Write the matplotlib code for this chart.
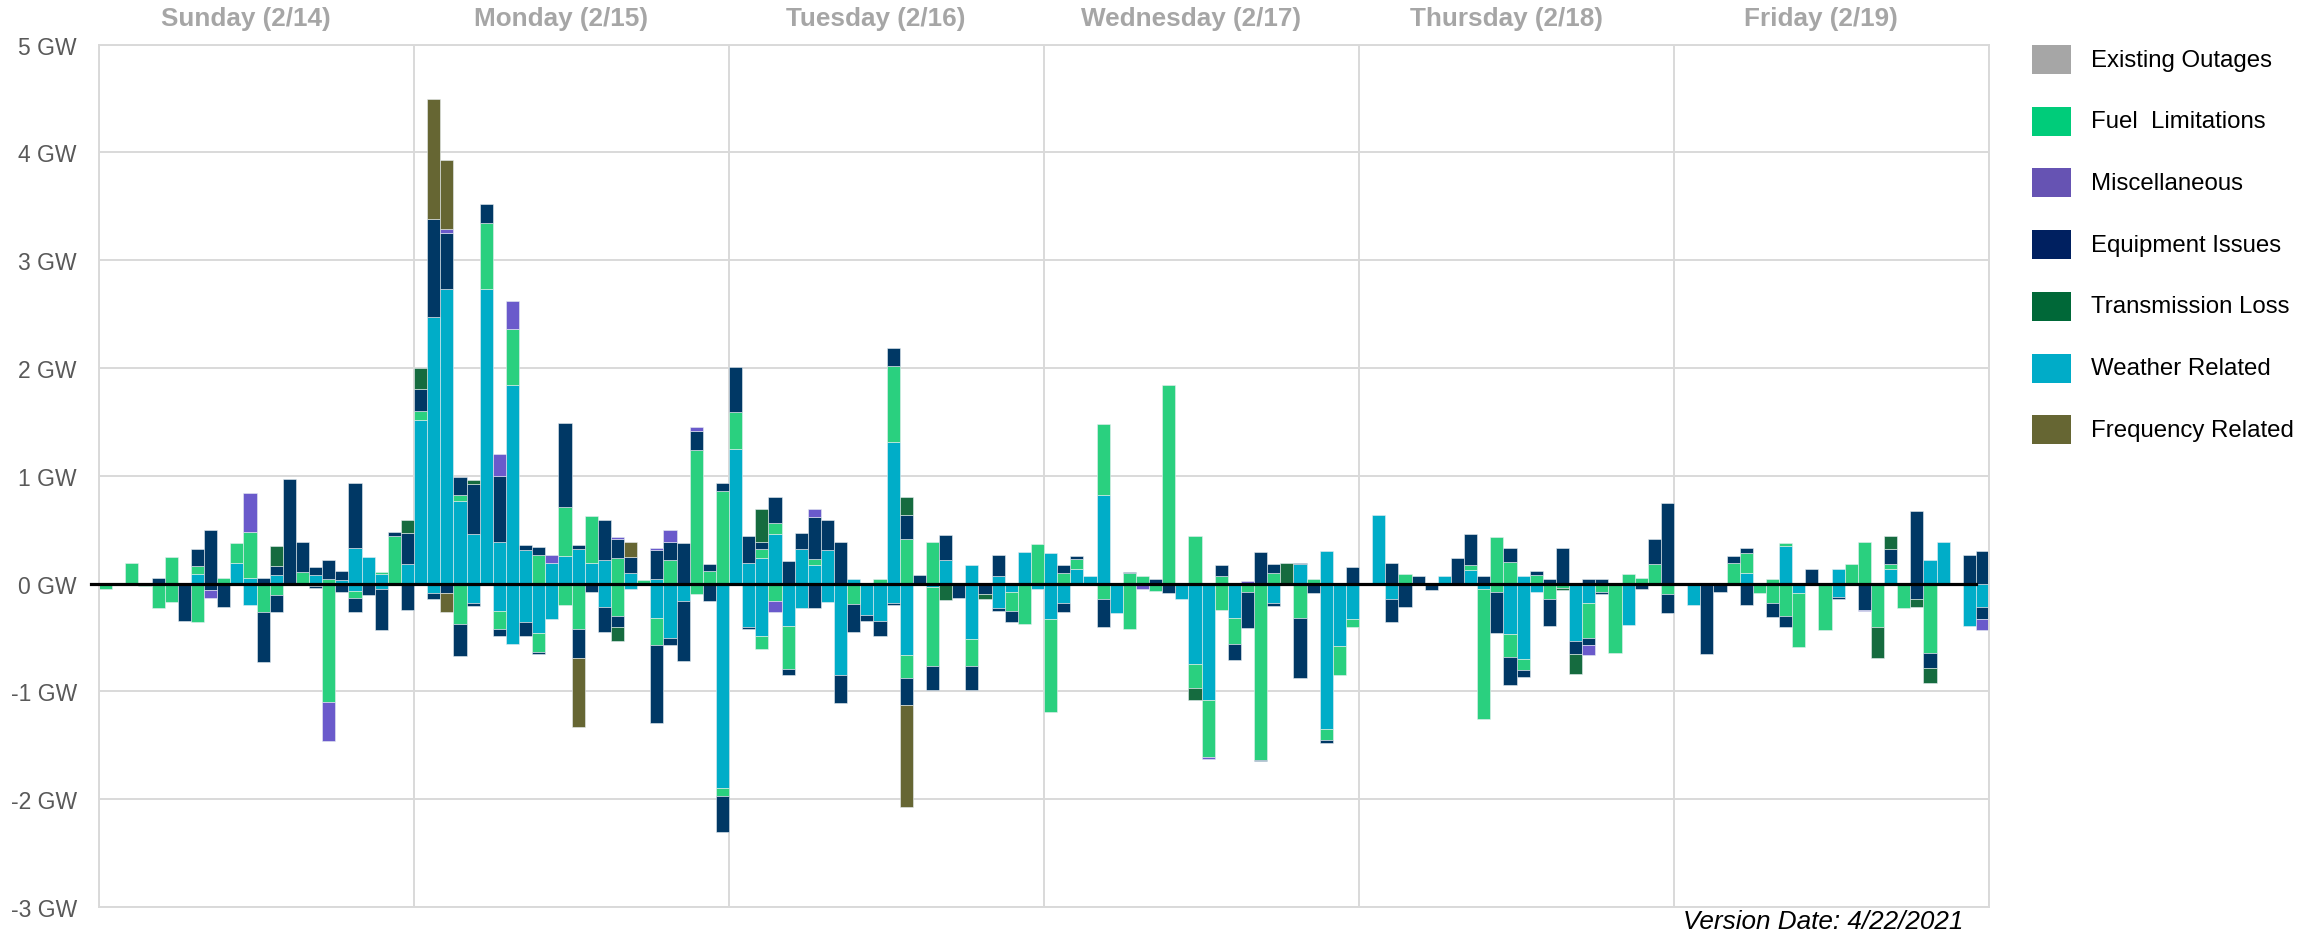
import numpy as np
import matplotlib
matplotlib.use("Agg")
import matplotlib.pyplot as plt
from matplotlib.patches import Rectangle
import matplotlib.transforms as mtransforms

plt.rcParams['font.family'] = ['Liberation Sans', 'DejaVu Sans']

# ---- data: hourly change in outages (GW), Sun 2/14 .. Fri 2/19, one row per day ----
days = ['Sunday (2/14)', 'Monday (2/15)', 'Tuesday (2/16)',
        'Wednesday (2/17)', 'Thursday (2/18)', 'Friday (2/19)']

weather_up = [
    0, 0, 0, 0, 0, 0, 0, .09, 0, 0, .19, .05, 0, .08, 0, 0, .08, 0, .03, .33, .25, .09, 0, .18,
    1.52, 2.47, 2.73, .77, .46, 2.73, .39, 1.84, .31, 0, .19, .26, .32, .19, .22, 0, .1, 0, .04, 0, 0, 0, 0, 0,
    1.25, .19, .24, .46, 0, .32, .17, .31, 0, .04, 0, 0, 1.31, 0, 0, 0, .22, 0, .17, 0, .07, 0, .29, 0,
    .28, 0, .14, .07, .82, 0, 0, 0, 0, 0, 0, 0, 0, 0, 0, 0, 0, 0, 0, .18, 0, .3, 0, 0,
    0, .64, 0, 0, 0, 0, .07, 0, .13, 0, 0, 0, .07, 0, 0, 0, 0, 0, 0, 0, 0, 0, 0, 0,
    0, 0, 0, 0, 0, .1, 0, 0, .35, 0, 0, 0, .14, 0, 0, 0, .14, 0, 0, .22, .39, 0, 0, 0]
weather_dn = [
    0, 0, 0, 0, 0, 0, 0, 0, 0, 0, 0, -.2, 0, 0, 0, 0, -.02, 0, 0, -.07, 0, -.05, 0, 0,
    0, -.09, 0, 0, -.18, 0, -.25, -.56, -.36, -.46, -.33, 0, 0, 0, -.22, 0, -.05, 0, -.32, -.5, -.16, 0, 0, -1.9,
    0, -.4, -.49, 0, -.39, -.23, 0, -.17, -.85, 0, -.29, -.35, -.18, -.66, 0, -.03, 0, 0, -.51, 0, -.23, -.08, 0, -.05,
    -.33, -.18, 0, 0, 0, -.27, 0, 0, 0, 0, -.14, -.75, -1.08, 0, -.32, 0, 0, -.18, 0, 0, 0, -1.35, -.58, -.33,
    0, 0, -.14, 0, 0, 0, 0, 0, 0, -.05, 0, -.47, -.7, -.08, 0, 0, -.53, -.18, 0, 0, -.38, 0, 0, 0,
    0, -.2, 0, 0, 0, 0, 0, 0, 0, -.09, 0, 0, -.12, 0, 0, 0, 0, 0, 0, 0, 0, 0, -.39, -.22]

fuel_up = [
    0, 0, .19, 0, 0, .25, 0, .07, 0, .05, .19, .43, 0, 0, 0, .11, 0, .04, 0, 0, 0, .02, .44, 0,
    .08, 0, 0, .05, 0, .62, 0, .52, 0, .27, 0, .45, 0, .44, 0, .24, 0, .03, 0, .22, 0, 1.24, .12, .86,
    .34, 0, .08, .1, 0, 0, .06, 0, 0, 0, 0, .04, .71, .41, 0, .39, 0, 0, 0, 0, 0, 0, 0, .37,
    0, .1, .09, 0, .66, 0, .1, .07, 0, 1.84, 0, .44, 0, .07, 0, 0, 0, .1, 0, 0, .04, 0, 0, 0,
    0, 0, 0, .09, 0, 0, 0, 0, .04, 0, .43, .2, 0, .08, 0, 0, 0, 0, 0, 0, .09, .05, .18, 0,
    0, 0, 0, 0, .19, .18, 0, .04, .03, 0, 0, 0, 0, .18, .39, 0, .04, 0, 0, 0, 0, 0, 0, 0]
fuel_dn = [
    -.05, 0, 0, -.02, -.23, -.17, 0, -.36, 0, 0, 0, 0, -.26, -.11, 0, 0, 0, -1.1, 0, -.06, 0, 0, 0, 0,
    0, 0, 0, -.37, 0, 0, -.17, 0, 0, -.17, 0, -.2, -.42, 0, 0, -.3, 0, 0, -.25, 0, 0, -.1, 0, -.07,
    0, 0, -.12, -.16, -.4, 0, 0, 0, 0, -.19, 0, 0, 0, -.22, 0, -.73, 0, 0, -.25, 0, 0, -.17, -.37, 0,
    -.86, 0, 0, 0, -.14, 0, -.42, 0, -.07, 0, 0, -.22, -.53, -.24, -.24, -.08, -1.64, 0, 0, -.32, 0, -.1, -.27, -.07,
    0, 0, 0, 0, 0, 0, 0, 0, 0, -1.21, -.08, -.21, -.1, 0, -.14, -.04, 0, -.32, -.08, -.64, 0, 0, 0, -.1,
    0, 0, 0, 0, 0, 0, -.09, -.18, -.3, -.5, 0, -.43, 0, 0, 0, -.4, 0, -.23, 0, -.64, 0, 0, 0, 0]

equip_up = [
    0, 0, 0, 0, .05, 0, 0, .16, .5, 0, 0, 0, .05, .08, .97, .28, .07, .18, .09, .6, 0, 0, .04, .29,
    .21, .91, .52, .17, .46, .17, .61, 0, .05, .07, 0, .78, .04, 0, .37, .17, .15, 0, .27, .17, .38, .18, .06, .07,
    .42, .25, .07, .24, .21, .15, .39, .28, .39, 0, 0, 0, .17, .23, .08, 0, .23, 0, 0, 0, .2, 0, 0, 0,
    0, .07, .03, 0, 0, 0, .01, 0, .04, 0, 0, 0, 0, .1, 0, 0, .29, .08, 0, .01, 0, 0, 0, .15,
    0, 0, .19, 0, .07, 0, 0, .24, .29, .07, 0, .13, 0, .04, .04, .33, 0, .04, .04, 0, 0, 0, .23, .75,
    0, 0, 0, 0, .07, .05, 0, 0, 0, 0, .14, 0, 0, 0, 0, 0, .14, 0, .67, 0, 0, 0, .27, .3]
equip_dn = [
    0, 0, 0, 0, 0, 0, -.35, 0, -.06, -.22, 0, 0, -.47, -.15, 0, 0, -.02, 0, -.08, -.13, -.11, -.38, 0, -.24,
    0, -.05, -.09, -.3, -.03, 0, -.07, 0, -.13, -.02, 0, 0, -.27, -.08, -.23, -.1, 0, 0, -.72, -.07, -.56, 0, -.16, -.33,
    0, -.02, 0, 0, -.06, 0, -.23, 0, -.26, -.26, -.06, -.14, -.02, -.25, 0, -.23, 0, -.13, -.23, -.1, -.02, -.11, 0, 0,
    0, -.08, 0, 0, -.26, 0, 0, 0, 0, -.09, 0, 0, 0, 0, -.15, -.33, -.01, -.03, 0, -.56, -.09, -.03, 0, 0,
    0, 0, -.22, -.22, 0, -.06, 0, 0, 0, 0, -.38, -.26, -.07, 0, -.25, 0, -.12, -.07, -.02, 0, 0, -.05, 0, -.17,
    0, 0, -.65, -.08, 0, -.2, 0, -.13, -.1, 0, 0, 0, -.02, 0, -.24, 0, 0, 0, -.14, -.14, 0, 0, 0, -.11]

trans_up = [
    0, 0, 0, 0, 0, 0, 0, 0, 0, 0, 0, 0, 0, .19, 0, 0, 0, 0, 0, 0, 0, 0, 0, .12,
    .19, 0, 0, 0, .04, 0, 0, 0, 0, 0, 0, 0, 0, 0, 0, 0, 0, 0, 0, 0, 0, 0, 0, 0,
    0, 0, .3, 0, 0, 0, 0, 0, 0, 0, 0, 0, 0, .16, 0, 0, 0, 0, 0, 0, 0, 0, 0, 0,
    0, 0, 0, 0, 0, 0, 0, 0, 0, 0, 0, 0, 0, 0, 0, 0, 0, 0, .19, 0, 0, 0, 0, 0,
    0, 0, 0, 0, 0, 0, 0, 0, 0, 0, 0, 0, 0, 0, 0, 0, 0, 0, 0, 0, 0, 0, 0, 0,
    0, 0, 0, 0, 0, 0, 0, 0, 0, 0, 0, 0, 0, 0, 0, 0, .12, 0, 0, 0, 0, 0, 0, 0]
trans_dn = [
    0, 0, 0, 0, 0, 0, 0, 0, 0, 0, 0, 0, 0, 0, 0, 0, 0, 0, 0, 0, 0, 0, 0, 0,
    0, 0, 0, 0, 0, 0, 0, 0, 0, 0, 0, 0, 0, 0, 0, -.13, 0, 0, 0, 0, 0, 0, 0, 0,
    0, 0, 0, 0, 0, 0, 0, 0, 0, 0, 0, 0, 0, 0, 0, 0, -.15, 0, 0, -.04, 0, 0, 0, 0,
    0, 0, 0, 0, 0, 0, 0, 0, 0, 0, 0, -.11, 0, 0, 0, 0, 0, 0, 0, 0, 0, 0, 0, 0,
    0, 0, 0, 0, 0, 0, 0, 0, 0, 0, 0, 0, 0, 0, 0, -.02, -.19, 0, 0, 0, 0, 0, 0, 0,
    0, 0, 0, 0, 0, 0, 0, 0, 0, 0, 0, 0, 0, 0, 0, -.29, 0, 0, -.08, -.14, 0, 0, 0, 0]

misc_up = [
    0, 0, 0, 0, 0, 0, 0, 0, 0, 0, 0, .36, 0, 0, 0, 0, 0, 0, 0, 0, 0, 0, 0, 0,
    0, 0, .04, 0, 0, 0, .2, .26, 0, 0, .08, 0, 0, 0, 0, .02, 0, 0, .02, .11, 0, .03, 0, 0,
    0, 0, 0, 0, 0, 0, .07, 0, 0, 0, 0, 0, 0, 0, 0, 0, 0, 0, 0, 0, 0, 0, 0, 0,
    0, 0, 0, 0, 0, 0, 0, 0, 0, 0, 0, 0, 0, 0, 0, .02, 0, 0, 0, 0, 0, 0, 0, 0,
    0, 0, 0, 0, 0, 0, 0, 0, 0, 0, 0, 0, 0, 0, 0, 0, 0, 0, 0, 0, 0, 0, 0, 0,
    0, 0, 0, 0, 0, 0, 0, 0, 0, 0, 0, 0, 0, 0, 0, 0, 0, 0, 0, 0, 0, 0, 0, 0]
misc_dn = [
    0, 0, 0, 0, 0, 0, 0, 0, -.07, 0, 0, 0, 0, 0, 0, 0, 0, -.36, 0, 0, 0, 0, 0, 0,
    0, 0, 0, 0, 0, 0, 0, 0, 0, 0, 0, 0, 0, 0, 0, 0, 0, 0, 0, 0, 0, 0, 0, 0,
    0, 0, 0, -.1, 0, 0, 0, 0, 0, 0, 0, 0, 0, 0, 0, 0, 0, 0, 0, 0, 0, 0, 0, 0,
    0, 0, 0, 0, 0, 0, 0, -.05, 0, 0, 0, 0, -.02, 0, 0, 0, 0, 0, 0, 0, 0, 0, 0, 0,
    0, 0, 0, 0, 0, 0, 0, 0, 0, 0, 0, 0, 0, 0, 0, 0, 0, -.09, 0, 0, 0, 0, 0, 0,
    0, 0, 0, 0, 0, 0, 0, 0, 0, 0, 0, 0, 0, 0, -.01, 0, 0, 0, 0, 0, 0, 0, 0, -.1]

freq_up = [
    0, 0, 0, 0, 0, 0, 0, 0, 0, 0, 0, 0, 0, 0, 0, 0, 0, 0, 0, 0, 0, 0, 0, 0,
    0, 1.12, .64, 0, 0, 0, 0, 0, 0, 0, 0, 0, 0, 0, 0, 0, .14, 0, 0, 0, 0, 0, 0, 0,
    0, 0, 0, 0, 0, 0, 0, 0, 0, 0, 0, 0, 0, 0, 0, 0, 0, 0, 0, 0, 0, 0, 0, 0,
    0, 0, 0, 0, 0, 0, 0, 0, 0, 0, 0, 0, 0, 0, 0, 0, 0, 0, 0, 0, 0, 0, 0, 0,
    0, 0, 0, 0, 0, 0, 0, 0, 0, 0, 0, 0, 0, 0, 0, 0, 0, 0, 0, 0, 0, 0, 0, 0,
    0, 0, 0, 0, 0, 0, 0, 0, 0, 0, 0, 0, 0, 0, 0, 0, 0, 0, 0, 0, 0, 0, 0, 0]
freq_dn = [
    0, 0, 0, 0, 0, 0, 0, 0, 0, 0, 0, 0, 0, 0, 0, 0, 0, 0, 0, 0, 0, 0, 0, 0,
    0, 0, -.17, 0, 0, 0, 0, 0, 0, 0, 0, 0, -.64, 0, 0, 0, 0, 0, 0, 0, 0, 0, 0, 0,
    0, 0, 0, 0, 0, 0, 0, 0, 0, 0, 0, 0, 0, -.94, 0, 0, 0, 0, 0, 0, 0, 0, 0, 0,
    0, 0, 0, 0, 0, 0, 0, 0, 0, 0, 0, 0, 0, 0, 0, 0, 0, 0, 0, 0, 0, 0, 0, 0,
    0, 0, 0, 0, 0, 0, 0, 0, 0, 0, 0, 0, 0, 0, 0, 0, 0, 0, 0, 0, 0, 0, 0, 0,
    0, 0, 0, 0, 0, 0, 0, 0, 0, 0, 0, 0, 0, 0, 0, 0, 0, 0, 0, 0, 0, 0, 0, 0]

# no existing-outage changes in this window
existing_up = [0] * 144
existing_dn = [0] * 144

legend_names = ['Existing Outages', 'Fuel  Limitations', 'Miscellaneous', 'Equipment Issues',
                'Transmission Loss', 'Weather Related', 'Frequency Related']
legend_colors = ['#a6a6a6', '#00cc7a', '#6653b3', '#002060', '#006838', '#00acc8', '#666633']

# stacking order from the zero line outwards
stack = [
    (weather_up, weather_dn, '#00adc8'),
    (fuel_up, fuel_dn, '#2ad07f'),
    (equip_up, equip_dn, '#003865'),
    (trans_up, trans_dn, '#156b3f'),
    (misc_up, misc_dn, '#6a5acb'),
    (freq_up, freq_dn, '#666633'),
    (existing_up, existing_dn, '#a6a6a6'),
]

W, H = 2320, 937
fig = plt.figure(figsize=(W / 100, H / 100), dpi=100)
ax = fig.add_axes([99 / W, 1 - 908 / H, (1989 - 99) / W, (908 - 45.7) / H])

x = np.arange(144) + 0.5
pos = np.zeros(144)
neg = np.zeros(144)
for up, dn, col in stack:
    up = np.array(up, dtype=float)
    dn = np.array(dn, dtype=float)
    m = up != 0
    ax.bar(x[m], up[m], bottom=pos[m], width=1.0, color=col,
           edgecolor='#e8eef2', linewidth=0.4, zorder=2)
    pos += up
    m = dn != 0
    ax.bar(x[m], dn[m], bottom=neg[m], width=1.0, color=col,
           edgecolor='#e8eef2', linewidth=0.4, zorder=2)
    neg += dn

ax.axhline(0, xmin=-0.004, xmax=0.993, color='black', linewidth=2.3, zorder=4, clip_on=False)

ax.set_xlim(0, 144)
ax.set_ylim(-3, 5)
ax.set_xticks(np.arange(0, 145, 24))
ax.set_xticklabels([])
ax.set_yticks(range(-3, 6))
ax.set_yticklabels([f'{v} GW' for v in range(-3, 6)], fontsize=16.5, color='#595959')
ax.tick_params(length=0, pad=16)
ax.grid(True, color='#d9d9d9', linewidth=1.4, zorder=0)
ax.set_axisbelow(True)
for s in ax.spines.values():
    s.set_color('#d9d9d9')
    s.set_linewidth(1.4)

# day headers
tr = mtransforms.blended_transform_factory(ax.transData, fig.transFigure)
for d, name in enumerate(days):
    ax.text(24 * d + 11.2, 1 - 19 / H, name, transform=tr, ha='center', va='center',
            fontsize=18.8, fontweight='bold', color='#a6a6a6')

# legend
for k, (name, col) in enumerate(zip(legend_names, legend_colors)):
    cy = 60.5 + 61.7 * k
    fig.add_artist(Rectangle((2032 / W, 1 - (cy + 14.5) / H), 39 / W, 29 / H,
                             transform=fig.transFigure, facecolor=col, edgecolor='none'))
    fig.text(2091 / W, 1 - cy / H, name, ha='left', va='center', fontsize=17.3,
             color='black')

fig.text(1963 / W, 1 - 922 / H, 'Version Date: 4/22/2021', ha='right', va='center',
         fontsize=18.8, style='italic', color='black')

fig.savefig('out.png', dpi=100)
